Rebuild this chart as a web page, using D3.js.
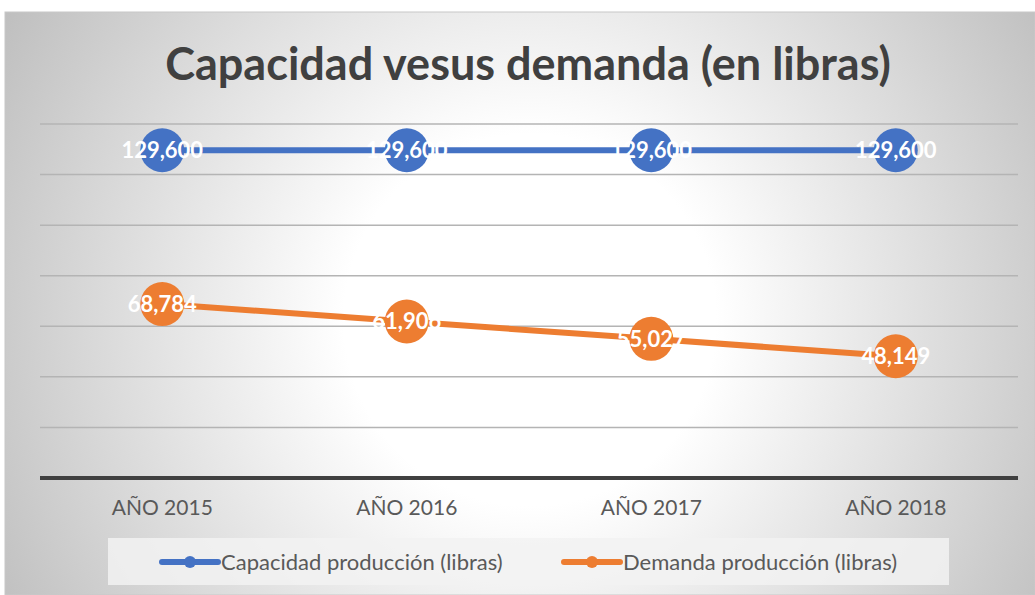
<!DOCTYPE html>
<html>
<head>
<meta charset="utf-8">
<script src="https://cdn.jsdelivr.net/npm/d3@7"></script>
<style>
  body { margin: 0; background: #fff; }
  svg { display: block; }
</style>
</head>
<body>
<script>
var years = ["AÑO 2015", "AÑO 2016", "AÑO 2017", "AÑO 2018"];
var capacidad = [129600, 129600, 129600, 129600];
var demanda = [68784, 61906, 55027, 48149];
var seriesNames = ["Capacidad producción (libras)", "Demanda producción (libras)"];
var seriesColors = ["#4472c4", "#ed7d31"];
var yTicks = [0, 20000, 40000, 60000, 80000, 100000, 120000, 140000];

var width = 1035;
var height = 595;
var margins = { top: 124, bottom: 117, left: 40, right: 17 };

var svg = d3.select("body").append("svg")
  .attr("width", width)
  .attr("height", height);

var defs = svg.append("defs");
var grad = defs.append("radialGradient")
  .attr("id", "bg")
  .attr("gradientUnits", "userSpaceOnUse")
  .attr("cx", 530).attr("cy", 320).attr("r", 620);
grad.append("stop").attr("offset", "0%").attr("stop-color", "#ffffff");
grad.append("stop").attr("offset", "30%").attr("stop-color", "#ffffff");
grad.append("stop").attr("offset", "100%").attr("stop-color", "#bdbdbd");

svg.append("rect")
  .attr("x", 5).attr("y", 12)
  .attr("width", width - 5).attr("height", height - 12)
  .attr("fill", "url(#bg)")
  .attr("stroke", "#c8c8c8")
  .attr("stroke-width", 1);

svg.append("text")
  .attr("x", 528).attr("y", 80)
  .attr("text-anchor", "middle")
  .attr("font-family", "Lato, 'Open Sans', sans-serif")
  .attr("font-weight", "bold")
  .attr("font-size", 45)
  .attr("fill", "#404040")
  .text("Capacidad vesus demanda (en libras)");

var plotW = width - margins.left - margins.right;
var plotH = height - margins.top - margins.bottom;

var xScale = d3.scaleBand()
  .domain(years)
  .range([margins.left, margins.left + plotW]);

var yScale = d3.scaleLinear()
  .domain([0, 140000])
  .range([margins.top + plotH, margins.top]);

// gridlines
svg.append("g")
  .selectAll("line")
  .data(yTicks.slice(1))
  .enter()
  .append("line")
  .attr("x1", margins.left)
  .attr("x2", margins.left + plotW)
  .attr("y1", function(d){ return yScale(d); })
  .attr("y2", function(d){ return yScale(d); })
  .attr("stroke", "#b4b4b4")
  .attr("stroke-width", 1.5);

// baseline
svg.append("line")
  .attr("x1", margins.left)
  .attr("x2", margins.left + plotW)
  .attr("y1", yScale(0))
  .attr("y2", yScale(0))
  .attr("stroke", "#404040")
  .attr("stroke-width", 4);

// x axis labels
var xAxis = d3.axisBottom(xScale).tickSize(0).tickPadding(22);
var xg = svg.append("g")
  .attr("transform", "translate(0," + yScale(0) + ")")
  .call(xAxis);
xg.select(".domain").remove();
xg.selectAll("text")
  .attr("font-family", "Lato, 'Open Sans', sans-serif")
  .attr("font-size", 21)
  .attr("fill", "#595959");

var series = [capacidad, demanda];
var line = d3.line()
  .x(function(d, i){ return xScale(years[i]) + xScale.bandwidth() / 2; })
  .y(function(d){ return yScale(d); });

series.forEach(function(values, s){
  var g = svg.append("g");
  g.append("path")
    .datum(values)
    .attr("d", line)
    .attr("fill", "none")
    .attr("stroke", seriesColors[s])
    .attr("stroke-width", 6)
    .attr("stroke-linecap", "round");

  g.selectAll("circle")
    .data(values)
    .enter()
    .append("circle")
    .attr("cx", function(d, i){ return xScale(years[i]) + xScale.bandwidth() / 2; })
    .attr("cy", function(d){ return yScale(d); })
    .attr("r", 22)
    .attr("fill", seriesColors[s]);

  g.selectAll("text")
    .data(values)
    .enter()
    .append("text")
    .attr("x", function(d, i){ return xScale(years[i]) + xScale.bandwidth() / 2; })
    .attr("y", function(d){ return yScale(d); })
    .attr("dy", "0.35em")
    .attr("text-anchor", "middle")
    .attr("font-family", "Lato, 'Open Sans', sans-serif")
    .attr("font-weight", "bold")
    .attr("font-size", 22)
    .attr("fill", "#ffffff")
    .text(function(d){ return d3.format(",")(d); });
});

// legend
svg.append("rect")
  .attr("x", 108).attr("y", 538)
  .attr("width", 841).attr("height", 47)
  .attr("fill", "#f2f2f2")
  .attr("opacity", 0.85);

var legendX = [160, 562];
seriesNames.forEach(function(name, s){
  var lg = svg.append("g")
    .attr("transform", "translate(" + legendX[s] + ",562)");
  lg.append("line")
    .attr("x1", 2).attr("x2", 58)
    .attr("y1", 0).attr("y2", 0)
    .attr("stroke", seriesColors[s])
    .attr("stroke-width", 6)
    .attr("stroke-linecap", "round");
  lg.append("circle")
    .attr("cx", 30).attr("cy", 0).attr("r", 6)
    .attr("fill", seriesColors[s]);
  lg.append("text")
    .attr("x", 61).attr("y", 0)
    .attr("dy", "0.35em")
    .attr("font-family", "Lato, 'Open Sans', sans-serif")
    .attr("font-size", 22)
    .attr("fill", "#595959")
    .text(name);
});
</script>
</body>
</html>
